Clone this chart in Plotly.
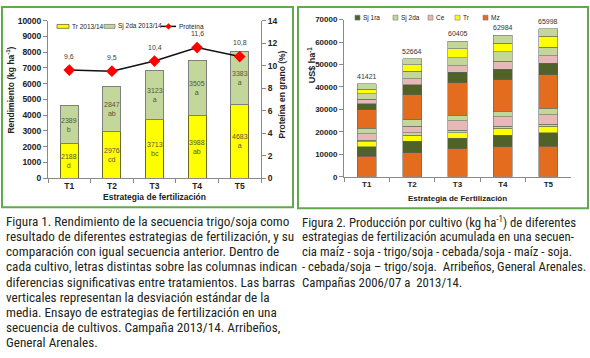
import plotly.graph_objects as go

W, H = 590, 358

# ---------------- data: figure 1 ----------------
treatments = ["T1", "T2", "T3", "T4", "T5"]
tr_yield = [2188, 2976, 3713, 3988, 4683]
tr_letters = ["d", "cd", "bc", "ab", "a"]
sj_yield = [2389, 2847, 3123, 3505, 3383]
sj_letters = ["b", "ab", "a", "a", "a"]
protein = [9.6, 9.5, 10.4, 11.6, 10.8]
protein_labels = ["9,6", "9,5", "10,4", "11,6", "10,8"]
left_ticks = list(range(0, 10001, 1000))
right_ticks = list(range(0, 15, 2))

# ---------------- data: figure 2 ----------------
crop_sequence = ["Mz", "Sj 1ra", "Tr", "Sj 2da", "Ce", "Sj 2da",
                 "Mz", "Sj 1ra", "Ce", "Sj 2da", "Tr", "Sj 2da"]
seg_T1 = [9100, 4200, 2300, 700, 2750, 2600, 8200, 2600, 2150, 2450, 1900, 2471]
seg_T2 = [10800, 5100, 2600, 1000, 2900, 2900, 11250, 4350, 2700, 3350, 2850, 2864]
seg_T3 = [12550, 4500, 2450, 1300, 4200, 2450, 14400, 4650, 2850, 3750, 3900, 3405]
seg_T4 = [13400, 5100, 3150, 750, 4300, 2500, 14100, 4650, 3600, 4050, 3900, 3484]
seg_T5 = [13700, 5800, 2900, 1000, 4300, 2900, 14850, 5050, 3350, 3900, 4750, 3498]
totals = [41421, 52664, 60405, 62984, 65998]
legend2_order = ["Sj 1ra", "Sj 2da", "Ce", "Tr", "Mz"]
usd_ticks = list(range(0, 70001, 10000))

crop_colors = {"Mz": "#E46C1E", "Sj 1ra": "#4F6228", "Sj 2da": "#C4D79B",
               "Ce": "#E6B9B8", "Tr": "#FFFF00"}

# ---------------- captions ----------------
caption1 = [
    "Figura 1. Rendimiento de la secuencia trigo/soja como",
    "resultado de diferentes estrategias de fertilización, y su",
    "comparación con igual secuencia anterior. Dentro de",
    "cada cultivo, letras distintas sobre las columnas indican",
    "diferencias significativas entre tratamientos. Las barras",
    "verticales representan la desviación estándar de la",
    "media. Ensayo de estrategias de fertilización en una",
    "secuencia de cultivos. Campaña 2013/14. Arribeños,",
    "General Arenales.",
]
caption2 = [
    "Figura 2. Producción por cultivo (kg ha<sup>-1</sup>) de diferentes",
    "estrategias de fertilización acumulada en una secuen-",
    "cia maíz - soja - trigo/soja - cebada/soja - maíz - soja.",
    "- cebada/soja – trigo/soja.  Arribeños, General Arenales.",
    "Campañas 2006/07 a  2013/14.",
]


def px(x):
    return x / W


def py(y):
    return 1 - y / H


AX_FONT = "Liberation Sans, Arial, sans-serif"
CAP_FONT = "Liberation Sans Narrow, Roboto Condensed, DejaVu Sans Condensed, Arial Narrow, Liberation Sans, sans-serif"
AXIS_GRAY = "#8a8a8a"
TXT = "#222222"

fig = go.Figure()

# ---- figure 1 bars ----
fig.add_trace(go.Bar(x=treatments, y=tr_yield, name="Tr 2013/14",
                     marker=dict(color="#FFFF00", line=dict(color="#6b6b20", width=1)),
                     xaxis="x", yaxis="y", showlegend=False))
fig.add_trace(go.Bar(x=treatments, y=sj_yield, name="Sj 2da 2013/14",
                     marker=dict(color="#C4D79B", line=dict(color="#7f7f7f", width=1)),
                     xaxis="x", yaxis="y", showlegend=False))
fig.add_trace(go.Scatter(x=treatments, y=protein, name="Proteína", mode="lines+markers",
                         line=dict(color="#111111", width=1.5),
                         marker=dict(symbol="diamond", size=9, color="#FF0000"),
                         xaxis="x", yaxis="y2", showlegend=False))

# ---- figure 2 bars ----
segments = list(zip(seg_T1, seg_T2, seg_T3, seg_T4, seg_T5))
for i, crop in enumerate(crop_sequence):
    fig.add_trace(go.Bar(x=treatments, y=list(segments[i]), name=crop,
                         marker=dict(color=crop_colors[crop],
                                     line=dict(color="rgba(95,95,95,0.65)", width=0.8)),
                         xaxis="x2", yaxis="y3", showlegend=False))

annotations = []


def ann(**kw):
    kw.setdefault("showarrow", False)
    kw.setdefault("xanchor", "center")
    kw.setdefault("yanchor", "middle")
    annotations.append(kw)


lab_font = dict(family=AX_FONT, size=7, color="#55553a")
# bar labels figure 1
for t, v, l in zip(treatments, tr_yield, tr_letters):
    ann(x=t, y=v / 2, xref="x", yref="y", text=f"{v}<br>{l}", font=lab_font)
for t, base, v, l in zip(treatments, tr_yield, sj_yield, sj_letters):
    ann(x=t, y=base + v / 2, xref="x", yref="y", text=f"{v}<br>{l}", font=lab_font)
# protein labels
for t, p, lab in zip(treatments, protein, protein_labels):
    ann(x=t, y=p, xref="x", yref="y2", text=lab, yshift=14,
        font=dict(family=AX_FONT, size=7, color="#404040"))
# totals figure 2
for t, tot in zip(treatments, totals):
    ann(x=t, y=tot, xref="x2", yref="y3", text=str(tot), yanchor="bottom", yshift=2,
        font=dict(family=AX_FONT, size=7, color="#333333"))

# axis titles
title_font = dict(family=AX_FONT, size=8.5, color=TXT, weight="bold")
ann(x=px(11), y=py(88), xref="paper", yref="paper", text="Rendimiento (kg ha<sup>-1</sup>)",
    textangle=-90, font=title_font)
ann(x=px(282), y=py(92), xref="paper", yref="paper", text="Proteína en grano (%)",
    textangle=-90, font=title_font)
ann(x=px(154), y=py(198), xref="paper", yref="paper", text="Estrategia de fertilización",
    font=title_font)
ann(x=px(312), y=py(62), xref="paper", yref="paper", text="US$ ha<sup>-1</sup>",
    textangle=-90, font=dict(family=AX_FONT, size=9, color=TXT, weight="bold"))
ann(x=px(457), y=py(199), xref="paper", yref="paper", text="Estrategia de Fertilización",
    font=dict(family=AX_FONT, size=8, color=TXT, weight="bold"))

shapes = []
# borders
shapes.append(dict(type="rect", xref="paper", yref="paper", x0=px(2), x1=px(293), y0=py(2), y1=py(208),
                   line=dict(color="#62A84C", width=2)))
shapes.append(dict(type="rect", xref="paper", yref="paper", x0=px(298), x1=px(588), y0=py(2), y1=py(209),
                   line=dict(color="#62A84C", width=2)))

# legend figure 1 (manual)
leg_font = dict(family=AX_FONT, size=6.5, color=TXT)
ly = 22
shapes.append(dict(type="rect", xref="paper", yref="paper", x0=px(57), x1=px(69), y0=py(ly - 2), y1=py(ly + 2),
                   fillcolor="#FFFF00", line=dict(color="#6b6b20", width=0.8)))
ann(x=px(70), y=py(ly), xref="paper", yref="paper", text="Tr 2013/14", xanchor="left", font=leg_font)
shapes.append(dict(type="rect", xref="paper", yref="paper", x0=px(104), x1=px(115), y0=py(ly - 2), y1=py(ly + 2),
                   fillcolor="#C4D79B", line=dict(color="#7f7f7f", width=0.8)))
ann(x=px(116), y=py(ly), xref="paper", yref="paper", text="Sj 2da 2013/14", xanchor="left", font=leg_font)
shapes.append(dict(type="line", xref="paper", yref="paper", x0=px(161), x1=px(176), y0=py(ly), y1=py(ly),
                   line=dict(color="#111111", width=1.5)))
shapes.append(dict(type="path", xref="paper", yref="paper",
                   path=f"M {px(168.5)},{py(ly - 3)} L {px(171.5)},{py(ly)} L {px(168.5)},{py(ly + 3)} L {px(165.5)},{py(ly)} Z",
                   fillcolor="#FF0000", line=dict(color="#FF0000", width=0.5)))
ann(x=px(177), y=py(ly), xref="paper", yref="paper", text="Proteína", xanchor="left", font=leg_font)

# legend figure 2 (manual)
ly2 = 13
leg2_x = [355, 393, 428, 455, 483]
for name, lx in zip(legend2_order, leg2_x):
    shapes.append(dict(type="rect", xref="paper", yref="paper", x0=px(lx), x1=px(lx + 5),
                       y0=py(ly2 - 2.5), y1=py(ly2 + 2.5), fillcolor=crop_colors[name],
                       line=dict(color="#7f7f7f", width=0.6)))
    ann(x=px(lx + 6), y=py(ly2), xref="paper", yref="paper", text=name, xanchor="left", font=leg_font)

# captions
cap_font1 = dict(family=CAP_FONT, size=13.2, color="#231F20")
cap_font2 = dict(family=CAP_FONT, size=12.8, color="#231F20")
for i, line in enumerate(caption1):
    ann(x=px(4), y=py(223 + 15.5 * i), xref="paper", yref="paper", text=line,
        xanchor="left", font=cap_font1)
for i, line in enumerate(caption2):
    ann(x=px(300), y=py(223 + 15.5 * i), xref="paper", yref="paper", text=line,
        xanchor="left", font=cap_font2)

tick_font = dict(family=AX_FONT, size=8.5, color=TXT, weight="bold")
common_axis = dict(showline=True, linecolor=AXIS_GRAY, linewidth=1, ticks="outside", ticklen=4,
                   tickcolor=AXIS_GRAY, showgrid=False, zeroline=False, fixedrange=True)

fig.update_layout(
    width=W, height=H, margin=dict(l=0, r=0, t=0, b=0),
    paper_bgcolor="white", plot_bgcolor="white",
    barmode="stack", bargap=0.58, showlegend=False,
    xaxis=dict(domain=[px(48), px(261)], anchor="y", tickson="boundaries",
               tickfont=tick_font, **common_axis),
    yaxis=dict(domain=[py(178), py(16)], anchor="x", range=[0, 10000], tickvals=left_ticks,
               tickformat="d", tickfont=tick_font, **common_axis),
    yaxis2=dict(overlaying="y", side="right", anchor="x", range=[0, 14], tickvals=right_ticks,
                tickformat="d", tickfont=tick_font, **common_axis),
    xaxis2=dict(domain=[px(344), px(571)], anchor="y3", tickson="boundaries",
                tickfont=dict(family=AX_FONT, size=8, color=TXT, weight="bold"), **common_axis),
    yaxis3=dict(domain=[py(176.7), py(15)], anchor="x2", range=[0, 70000], tickvals=usd_ticks,
                tickformat="d", tickfont=dict(family=AX_FONT, size=8, color=TXT, weight="bold"),
                **common_axis),
    annotations=annotations, shapes=shapes,
)

fig.write_html("out.html", config={"displayModeBar": False},
               post_script="document.body.style.margin='0px';")
